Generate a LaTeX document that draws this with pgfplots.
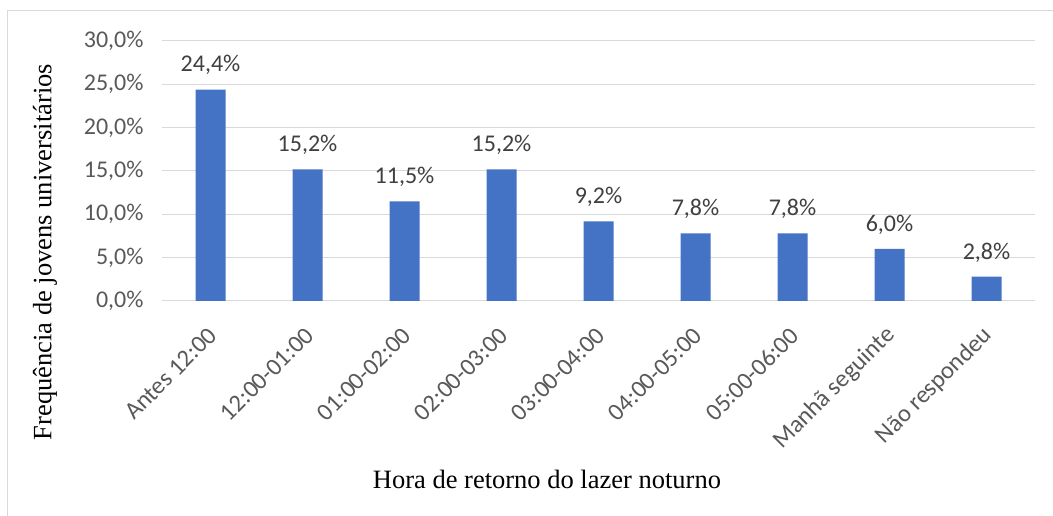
\documentclass[border=0pt]{standalone}
\usepackage{fontspec}
\setmainfont{Liberation Serif}
\newfontfamily\calfont{Carlito}
\usepackage{pgfplots}
\pgfplotsset{compat=1.18}
\definecolor{barblue}{HTML}{4472C4}
\definecolor{gridgray}{HTML}{D9D9D9}
\definecolor{ticktext}{HTML}{595959}
\definecolor{labeltext}{HTML}{404040}
\begin{document}
\begin{tikzpicture}
\path[use as bounding box] (0,0) rectangle (1053bp,516bp);
\clip (0,0) rectangle (1053bp,516bp);
\fill[white] (0,0) rectangle (1053bp,516bp);
\draw[gridgray, line width=1bp] (7bp,-10bp) rectangle (1070bp,505bp);
\begin{axis}[
  at={(162bp,215bp)}, anchor=south west,
  scale only axis, width=873bp, height=260bp,
  xmin=-0.5, xmax=8.5, ymin=0, ymax=30,
  axis line style={draw=none},
  major tick length=0,
  ytick={0,5,10,15,20,25,30},
  yticklabels={{0,0\%},{5,0\%},{10,0\%},{15,0\%},{20,0\%},{25,0\%},{30,0\%}},
  ymajorgrids, grid style={gridgray, line width=1bp},
  xtick={0,1,2,3,4,5,6,7,8},
  xticklabels={Antes 12:00,12:00-01:00,01:00-02:00,02:00-03:00,03:00-04:00,04:00-05:00,05:00-06:00,Manhã seguinte,Não respondeu},
  xticklabel style={rotate=45, anchor=east, xshift=-17bp, yshift=-23bp, font=\calfont\fontsize{24.5bp}{27bp}\selectfont, text=ticktext},
  yticklabel style={xshift=-15bp, font=\calfont\fontsize{24bp}{27bp}\selectfont, text=ticktext},
  xlabel={Hora de retorno do lazer noturno},
  xlabel style={at={(axis description cs:0.441,-0.688)}, anchor=center, font=\fontsize{26.5bp}{30bp}\selectfont, text=black},
  ylabel={Frequência de jovens universitários},
  ylabel style={at={(axis description cs:-0.134,0.188)}, anchor=center, font=\fontsize{26.5bp}{30bp}\selectfont, text=black},
  ybar, bar width=30bp,
  nodes near coords={\pgfmathprintnumber[fixed,fixed zerofill,precision=1,use comma,assume math mode=true]{\pgfplotspointmeta}\%},
  every node near coord/.append style={font=\calfont\fontsize{24bp}{27bp}\selectfont, text=labeltext, anchor=south, yshift=11bp},
  clip=false,
]
\addplot[fill=barblue, draw=none] coordinates {
  (0,24.4) (1,15.2) (2,11.5) (3,15.2) (4,9.2) (5,7.8) (6,7.8) (7,6.0) (8,2.8)
};
\end{axis}
\end{tikzpicture}
\end{document}
